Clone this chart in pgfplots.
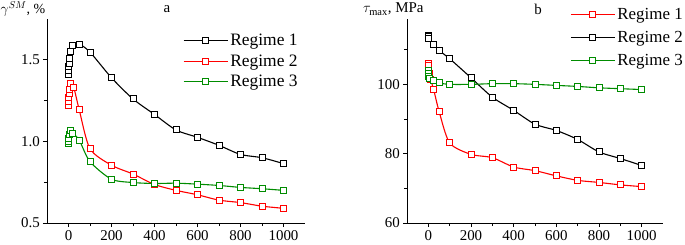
\documentclass[border=0pt]{standalone}
\usepackage{fontspec}
\setmainfont{Liberation Serif}
\usepackage{pgfplots}
\pgfplotsset{compat=1.18}
\definecolor{myred}{RGB}{255,0,0}
\definecolor{mygreen}{RGB}{0,140,0}
\newcommand{\tf}{\fontsize{15}{15}\selectfont}
\newcommand{\lf}{\fontsize{17.5}{17.5}\selectfont}
\pgfplotsset{
  myaxis/.style={
    scale only axis,
    axis x line*=bottom, axis y line*=left,
    axis line style={-, line width=1bp},
    tick align=outside,
    major tick length=4bp, minor tick length=3bp,
    every tick/.style={black, line width=0.9bp},
    xmin=-100, xmax=1100,
    xtick={0,200,...,1000}, minor xtick={100,300,...,900},
    /pgf/number format/assume math mode=true,
    /pgf/number format/1000 sep={},
    tick label style={font=\tf},
    yticklabel style={inner sep=3bp},
    legend style={draw=none, fill=none, font=\lf, inner sep=0pt, anchor=north west},
    legend cell align=left,
    legend image code/.code={\draw[mark repeat=2,mark phase=2,##1] plot coordinates {(0bp,0bp) (22bp,0bp) (44bp,0bp)};},
    every axis plot/.append style={line width=1.1bp, mark=square*, mark size=3bp, mark options={fill=white, solid, line width=1bp}, smooth, tension=0.45},
  }
}
\begin{document}
\begin{tikzpicture}
\path[use as bounding box] (0,0) rectangle (685bp,245bp);
% ---------------- panel a
\begin{axis}[myaxis, at={(47bp,22bp)}, anchor=south west,
  width=258bp, height=204bp,
  ymin=0.5, ymax=1.75, ytick={0.5,1.0,1.5}, minor ytick={0.75,1.25},
  yticklabel style={/pgf/number format/fixed, /pgf/number format/fixed zerofill, /pgf/number format/precision=1},
  legend style={at={(0.527,0.937)}, row sep=3.5bp}]
\addplot[black] coordinates {(0,1.41) (1,1.433) (2,1.457) (3,1.48) (5,1.506) (10,1.55) (20,1.587) (50,1.596) (100,1.547) (200,1.39) (300,1.26) (400,1.165) (500,1.07) (600,1.025) (700,0.976) (800,0.92) (900,0.90) (1000,0.864)};
\addlegendentry{Regime 1}
\addplot[myred] coordinates {(0,1.22) (1,1.246) (2,1.27) (3,1.295) (5,1.32) (10,1.352) (25,1.328) (50,1.193) (100,0.955) (200,0.854) (300,0.80) (400,0.736) (500,0.70) (600,0.673) (700,0.64) (800,0.625) (900,0.603) (1000,0.59)};
\addlegendentry{Regime 2}
\addplot[mygreen] coordinates {(0,0.99) (1,1.0) (2,1.02) (3,1.04) (10,1.065) (20,1.05) (50,1.008) (100,0.876) (200,0.768) (300,0.748) (400,0.742) (500,0.744) (600,0.738) (700,0.73) (800,0.718) (900,0.71) (1000,0.70)};
\addlegendentry{Regime 3}
\node[anchor=base west, inner sep=0pt, font=\tf] at ([xshift=-1bp,yshift=-16bp]rel axis cs:1,0) {N};
\end{axis}
\node[anchor=base west, inner sep=0pt, font=\fontsize{14}{14}\selectfont] at (0.5bp,231bp) {$\gamma^{SM}$, \%};
\node[anchor=base, inner sep=0pt, font=\tf] at (167bp,232bp) {a};
% ---------------- panel b
\begin{axis}[myaxis, at={(407bp,22bp)}, anchor=south west,
  width=256bp, height=204.5bp,
  ymin=60, ymax=119, ytick={60,80,100}, minor ytick={70,90,110},
  legend style={at={(0.637,1.06)}, row sep=6bp, font=\fontsize{17}{17}\selectfont}]
\addplot[myred] coordinates {(0,106) (1,105.3) (5,103) (10,101.5) (25,98.5) (50,92.3) (100,83.1) (200,79.8) (300,78.85) (400,76.15) (500,75.1) (600,73.6) (700,72.3) (800,71.7) (900,71.0) (1000,70.5)};
\addlegendentry{Regime 1}
\addplot[black] coordinates {(0,114.2) (1,113.7) (2,113.2) (25,111.5) (50,109.8) (100,107.4) (200,101.9) (300,96.3) (400,92.5) (500,88.5) (600,86.7) (700,84.1) (800,80.5) (900,78.6) (1000,76.6)};
\addlegendentry{Regime 2}
\addplot[mygreen] coordinates {(0,104.0) (1,103.2) (2,102.4) (5,101.8) (25,101.0) (50,100.4) (100,100.0) (200,100.0) (300,100.2) (400,100.2) (500,100.0) (600,99.7) (700,99.4) (800,99.0) (900,98.75) (1000,98.5)};
\addlegendentry{Regime 3}
\node[anchor=base west, inner sep=0pt, font=\tf] at ([xshift=3bp,yshift=-16bp]rel axis cs:1,0) {N};
\end{axis}
\node[anchor=base west, inner sep=0pt, font=\tf] at (363bp,232bp) {$\tau_{\max}$, MPa};
\node[anchor=base, inner sep=0pt, font=\tf] at (538bp,230bp) {b};
\end{tikzpicture}
\end{document}
